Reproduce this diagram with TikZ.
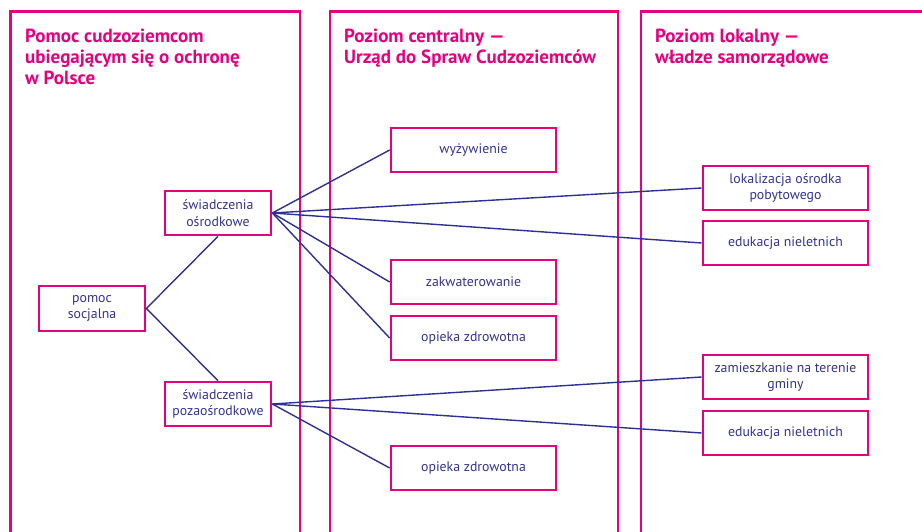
\documentclass[tikz,border=0pt]{standalone}
\usepackage{fontspec}
\setmainfont{PT Sans}
\definecolor{pinkc}{HTML}{E5007D}
\definecolor{navyc}{HTML}{2E3192}
\definecolor{navytext}{HTML}{34348F}
\begin{document}
\begin{tikzpicture}[x=1pt,y=-1pt,
  colframe/.style={draw=pinkc,line width=2.8pt},
  heading/.style={anchor=north west,inner sep=0pt,align=left,text=pinkc,
    font=\fontsize{19}{20.7}\selectfont\bfseries},
  box/.style={draw=pinkc,line width=2.7pt,fill=white,text=navytext,align=center,
    inner sep=0pt,minimum height=44pt,font=\fontsize{13.8}{16.7}\selectfont},
  smallbox/.style={box,minimum width=106pt},
  widebox/.style={box,minimum width=165pt},
  link/.style={draw=navyc,line width=1.4pt}]
\useasboundingbox (0,0) rectangle (922,532);
\clip (0,0) rectangle (922,532);
% columns
\draw[colframe] (10.5,545) |- (300,11.5) -- (300,545);
\draw[colframe] (330,545) |- (618,11.5) -- (618,545);
\draw[colframe] (641,545) |- (935,11.5);
% headings
\node[heading] (h1) at (25,29) {Pomoc cudzoziemcom\\ubiegającym się o ochronę\\w Polsce};
\node[heading] (h2) at (344,29) {Poziom centralny —\\Urząd do Spraw Cudzoziemców};
\node[heading] (h3) at (655,29) {Poziom lokalny —\\władze samorządowe};
% boxes
\node[smallbox,minimum height=45pt] (pomoc) at (92,308.5) {pomoc\\socjalna};
\node[smallbox] (osr) at (218,213) {świadczenia\\ośrodkowe};
\node[smallbox] (poza) at (218,404) {świadczenia\\pozaośrodkowe};
\node[widebox] (wyz) at (473.5,150) {wyżywienie};
\node[widebox] (zakw) at (473.5,282) {zakwaterowanie};
\node[widebox] (op1) at (473.5,338) {opieka zdrowotna};
\node[widebox] (op2) at (473.5,468) {opieka zdrowotna};
\node[widebox] (lok) at (785.5,188) {lokalizacja ośrodka\\pobytowego};
\node[widebox] (edu1) at (785.5,243) {edukacja nieletnich};
\node[widebox] (zam) at (785.5,377) {zamieszkanie na terenie\\gminy};
\node[widebox] (edu2) at (785.5,433) {edukacja nieletnich};
% links
\draw[link] (osr.south) -- (pomoc.east) -- (poza.north);
\draw[link] (osr.east) -- (wyz.west);
\draw[link] (osr.east) -- (lok.west);
\draw[link] (osr.east) -- (edu1.west);
\draw[link] (osr.east) -- (zakw.west);
\draw[link] (osr.east) -- (op1.west);
\draw[link] (poza.east) -- (zam.west);
\draw[link] (poza.east) -- (edu2.west);
\draw[link] (poza.east) -- (op2.west);
\end{tikzpicture}
\end{document}
